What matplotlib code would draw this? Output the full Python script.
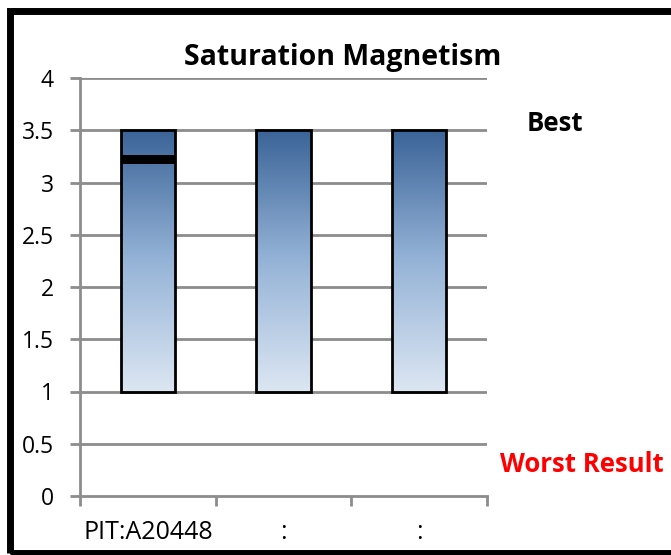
import numpy as np
import matplotlib.pyplot as plt
from matplotlib.patches import Rectangle

plt.rcParams['font.family'] = ['Open Sans', 'DejaVu Sans']

categories = ['PIT:A20448', ':', ':']
bar_bottom = [1.0, 1.0, 1.0]
bar_top = [3.5, 3.5, 3.5]
marker_value = [3.22, None, None]
y_ticks = [0, 0.5, 1, 1.5, 2, 2.5, 3, 3.5, 4]
y_tick_labels = ['0', '0.5', '1', '1.5', '2', '2.5', '3', '3.5', '4']

fig = plt.figure(figsize=(6.71, 5.55), dpi=100)
ax = fig.add_axes([80 / 671, 1 - 496 / 555, 407 / 671, 418 / 555])

grid_color = '#8c8c8c'
ax.set_xlim(0, 3)
ax.set_ylim(0, 4)
ax.set_yticks(y_ticks)
ax.set_yticklabels(y_tick_labels)
for y in y_ticks[1:]:
    ax.axhline(y, color=grid_color, lw=2, zorder=0)

# x ticks at category boundaries, labels centred in each category
ax.set_xticks([0, 1, 2, 3])
ax.set_xticklabels([])
ax.set_xticks([0.5, 1.5, 2.5], minor=True)
ax.set_xticklabels(categories, minor=True)
ax.tick_params(axis='x', which='minor', length=0, pad=17, labelsize=18)
ax.tick_params(axis='x', which='major', length=7, width=2, color=grid_color)
ax.tick_params(axis='y', length=7, width=2, color=grid_color, labelsize=16.5, pad=12)

for s in ['top', 'right']:
    ax.spines[s].set_visible(False)
for s in ['left', 'bottom']:
    ax.spines[s].set_color(grid_color)
    ax.spines[s].set_linewidth(2)

# gradient bars
cmap = plt.matplotlib.colors.LinearSegmentedColormap.from_list('g', ['#dce6f2', '#95b3d7', '#3a6397'])
grad = np.linspace(0, 1, 256).reshape(-1, 1)
width = 0.4
for i, (b, t) in enumerate(zip(bar_bottom, bar_top)):
    x0 = i + 0.5 - width / 2
    im = ax.imshow(grad, extent=[x0, x0 + width, b, t], origin='lower', cmap=cmap,
                   aspect='auto', zorder=2)
    rect = Rectangle((x0, b), width, t - b, facecolor='none', edgecolor='black', lw=2, zorder=3)
    ax.add_patch(rect)
    im.set_clip_path(rect)
    if marker_value[i] is not None:
        ax.add_patch(Rectangle((x0, marker_value[i] - 0.04), width, 0.08,
                               facecolor='black', edgecolor='none', zorder=4))

ax.set_xlim(0, 3)
ax.set_ylim(0, 4)

fig.text(343 / 671, 1 - 57 / 555, 'Saturation Magnetism', ha='center', va='center',
         fontsize=20.5, fontweight='bold')
fig.text(527 / 671, 1 - 124 / 555, 'Best', ha='left', va='center', fontsize=18.5, fontweight='bold')
fig.text(500 / 671, 1 - 465 / 555, 'Worst Result', ha='left', va='center', fontsize=18.5,
         fontweight='bold', color='red')

# outer frame
fig.patches.append(Rectangle((9.5 / 671, 1 - 553 / 555), 700 / 671, 542 / 555, transform=fig.transFigure,
                             facecolor='none', edgecolor='black', lw=5, figure=fig))

fig.savefig('out.png', dpi=100)
